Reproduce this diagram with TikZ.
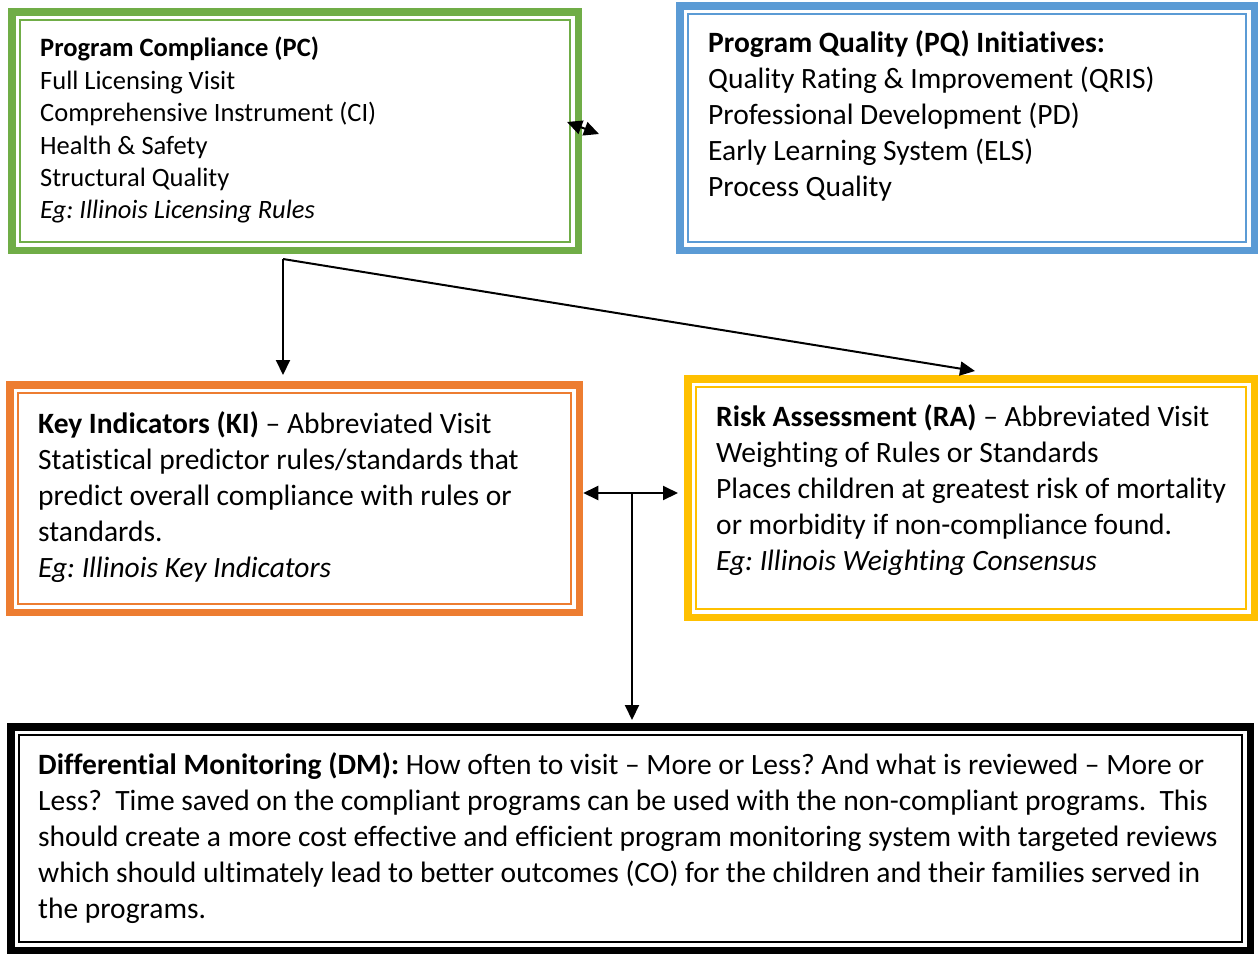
\documentclass[tikz,border=0pt]{standalone}
\usepackage{fontspec}
\setmainfont{Carlito}[Ligatures={TeX,NoCommon}]
\usetikzlibrary{arrows.meta}
\definecolor{pcgreen}{HTML}{70AD47}
\definecolor{pqblue}{HTML}{5B9BD5}
\definecolor{kiorange}{HTML}{ED7D31}
\definecolor{rayellow}{HTML}{FFC000}
\frenchspacing
\begin{document}
\begin{tikzpicture}[x=1pt,y=-1pt,
  >={Triangle[length=15pt,width=14pt]},
  frame/.style={draw=#1, line width=7.5pt, inner sep=0pt, outer sep=0pt, anchor=north west},
  inner frame/.style={draw=#1, line width=2pt},
  txt/.style={inner sep=0pt, anchor=north west, align=left,
    font=\fontsize{29.5}{36}\selectfont},
  smalltxt/.style={txt, font=\fontsize{26.5}{32.4}\selectfont},
  conn/.style={line width=2pt, black}]
\useasboundingbox (0,0) rectangle (1258,953);

% thick outer frames, drawn on the centre line of the 7.5pt band
\node[frame=pcgreen,  minimum width=566.5pt,  minimum height=238.5pt] (pc) at (11.75,11.75) {};
\node[frame=pqblue,   minimum width=574.5pt,  minimum height=244.5pt] (pq) at (679.75,5.75) {};
\node[frame=kiorange, minimum width=569.5pt,  minimum height=227.5pt] (ki) at (9.75,384.75) {};
\node[frame=rayellow, minimum width=566.5pt,  minimum height=238.5pt] (ra) at (687.75,378.75) {};
\node[frame=black,    minimum width=1239.5pt, minimum height=223.5pt] (dm) at (10.75,726.75) {};

% thin inner lines of the frames
\foreach \n/\c in {pc/pcgreen, pq/pqblue, ki/kiorange, ra/rayellow, dm/black}
  \draw[inner frame=\c] ([shift={(8.25,8.25)}]\n.north west) rectangle ([shift={(-8.25,-8.25)}]\n.south east);

% box texts
\node[smalltxt] (pc-t) at (40,37) {\textbf{Program Compliance (PC)}\\
Full Licensing Visit\\
Comprehensive Instrument (CI)\\
Health \& Safety\\
Structural Quality\\
\textit{Eg: Illinois Licensing Rules}};

\node[txt] (pq-t) at (708,30.5) {\textbf{Program Quality (PQ) Initiatives:}\\
Quality Rating \& Improvement (QRIS)\\
Professional Development (PD)\\
Early Learning System (ELS)\\
Process Quality};

\node[txt] (ki-t) at (38,411.5) {\textbf{Key Indicators (KI)} – Abbreviated Visit\\
Statistical predictor rules/standards that\\
predict overall compliance with rules or\\
standards.\\
\textit{Eg: Illinois Key Indicators}};

\node[txt] (ra-t) at (716,404) {\textbf{Risk Assessment (RA)} – Abbreviated Visit\\
Weighting of Rules or Standards\\
Places children at greatest risk of mortality\\
or morbidity if non-compliance found.\\
\textit{Eg: Illinois Weighting Consensus}};

\node[txt] (dm-t) at (38,752) {\textbf{Differential Monitoring (DM):} How often to visit – More or Less? And what is reviewed – More or\\
Less?\ \ Time saved on the compliant programs can be used with the non-compliant programs.\ \ This\\
should create a more cost effective and efficient program monitoring system with targeted reviews\\
which should ultimately lead to better outcomes (CO) for the children and their families served in\\
the programs.};

% connectors
\coordinate (pcq-a) at (567,122);
\coordinate (pcq-b) at (599,134);
\draw[conn, <->] (pcq-a) -- (pcq-b);

\coordinate (split) at (283,259);
\coordinate (ra-in) at (975,371);
\draw[conn, ->, shorten >=9.75pt] (split) -- (split |- ki.north);
\draw[conn, ->] (split) -- (ra-in);

\coordinate (mid) at (632,493);
\coordinate (kr-l) at ([xshift=4pt]ki.east |- mid);
\coordinate (kr-r) at ([xshift=-9.75pt]ra.west |- mid);
\draw[conn, <->] (kr-l) -- (kr-r);
\draw[conn, ->, shorten >=6.75pt] (mid) -- (mid |- dm.north);
\end{tikzpicture}
\end{document}
